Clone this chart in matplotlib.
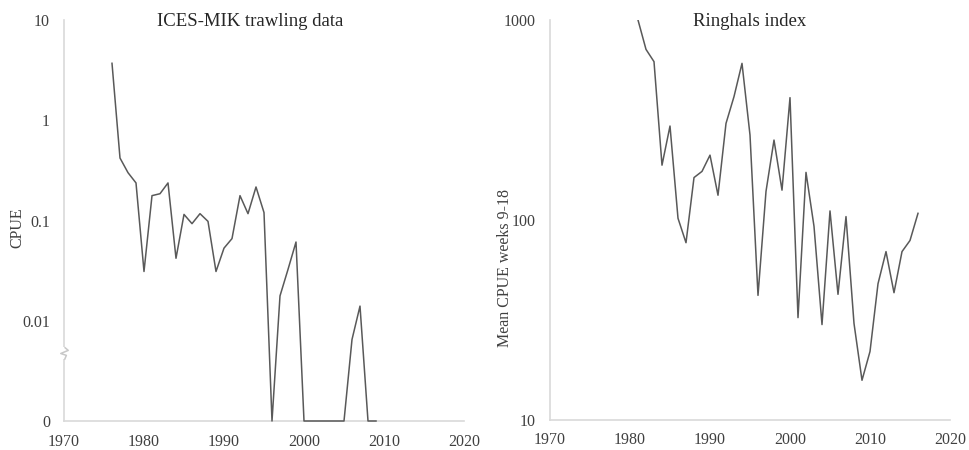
import numpy as np
import matplotlib.pyplot as plt
from matplotlib.path import Path
import matplotlib.transforms as mtrans

plt.rcParams['font.family'] = ['Liberation Serif', 'DejaVu Serif']

# ICES-MIK trawling data (CPUE, 0 = no catch)
years_ices = [1976, 1977, 1978, 1979, 1980, 1981, 1982, 1983, 1984, 1985,
              1986, 1987, 1988, 1989, 1990, 1991, 1992, 1993, 1994, 1995,
              1996, 1997, 1998, 1999, 2000, 2001, 2002, 2003, 2004, 2005,
              2006, 2007, 2008, 2009]
cpue_ices = [3.7, 0.42, 0.30, 0.237, 0.031, 0.177, 0.185, 0.237, 0.042, 0.115,
             0.093, 0.117, 0.098, 0.031, 0.053, 0.066, 0.177, 0.117, 0.216, 0.12,
             0.0, 0.0177, 0.0325, 0.061, 0.0, 0.0, 0.0, 0.0, 0.0, 0.0,
             0.0065, 0.014, 0.0, 0.0]

# Ringhals index (mean CPUE weeks 9-18)
years_ring = list(range(1981, 2017))
cpue_ring = [1000, 713, 619, 188, 295, 102, 77, 163, 175, 211,
             133, 304, 414, 607, 266, 42, 139, 251, 141, 409,
             32.5, 173, 93, 30, 111, 42.5, 104, 30.4, 15.8, 22,
             48, 69.5, 43.3, 69.5, 79, 108]

ices_ticks = [0.001, 0.01, 0.1, 1, 10]
ices_labels = ['0', '0.01', '0.1', '1', '10']
ring_ticks = [10, 100, 1000]
ring_labels = ['10', '100', '1000']
x_ticks = [1970, 1980, 1990, 2000, 2010, 2020]

line_col = '#595959'
spine_col = '#d9d9d9'
text_col = '#404040'

fig = plt.figure(figsize=(9.7, 4.5), dpi=100)
ax1 = fig.add_axes([64 / 970, 1 - 421 / 450, 400 / 970, 401 / 450])
ax2 = fig.add_axes([550 / 970, 1 - 420 / 450, 400 / 970, 400 / 450])

# zero values sit on the axis floor (shown as "0")
floor = ices_ticks[0]
y_ices = np.where(np.array(cpue_ices) == 0, floor, cpue_ices)
ax1.plot(years_ices, y_ices, color=line_col, lw=1.1, clip_on=False, zorder=3)
ax1.set_yscale('log')
ax1.set_ylim(floor, 10)
ax1.set_yticks(ices_ticks)
ax1.set_yticklabels(ices_labels)

ax2.plot(years_ring, cpue_ring, color=line_col, lw=1.1, zorder=3)
ax2.set_yscale('log')
ax2.set_ylim(10, 1000)
ax2.set_yticks(ring_ticks)
ax2.set_yticklabels(ring_labels)

for ax in (ax1, ax2):
    ax.set_xlim(1970, 2020)
    ax.set_xticks(x_ticks)
    ax.minorticks_off()
    for s in ('top', 'right'):
        ax.spines[s].set_visible(False)
    for s in ('left', 'bottom'):
        ax.spines[s].set_color(spine_col)
        ax.spines[s].set_linewidth(1.2)
    ax.tick_params(length=0, labelsize=11.5, colors=text_col)
    ax.tick_params(axis='y', pad=10)
    ax.tick_params(axis='x', pad=9)

# axis break mark between 0.01 and 0
trans = mtrans.blended_transform_factory(ax1.transAxes, ax1.transData)
yb = 10 ** -2.32
gap = Path([(0, -0.5), (0, 0.5)])
ax1.plot([0], [yb], marker=gap, markersize=9, markeredgewidth=4,
         color='white', transform=trans, clip_on=False, zorder=4)
zig = Path([(0, 0.5), (0.3, 0.25), (-0.3, 0.0), (0.15, -0.15), (0, -0.5)])
ax1.plot([0], [yb], marker=zig, markersize=9, markeredgewidth=1.1,
         markerfacecolor='none', color='#c8c8c8', transform=trans,
         clip_on=False, zorder=5)

fig.text(250 / 970, 1 - 22 / 450, 'ICES-MIK trawling data', ha='center', va='center',
         fontsize=13.5, color='#262626')
fig.text(750 / 970, 1 - 22 / 450, 'Ringhals index', ha='center', va='center',
         fontsize=13.5, color='#262626')
fig.text(17 / 970, 1 - 228 / 450, 'CPUE', rotation=90, ha='center', va='center',
         fontsize=11.5, color=text_col)
fig.text(505 / 970, 1 - 268 / 450, 'Mean CPUE weeks 9-18', rotation=90, ha='center',
         va='center', fontsize=11.5, color=text_col)

fig.savefig('out.png', dpi=100)
